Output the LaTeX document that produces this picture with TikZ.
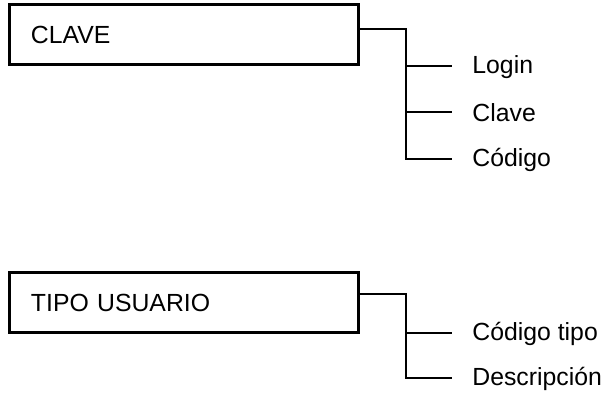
\documentclass[tikz,border=0pt]{standalone}
\usepackage{fontspec}
\setmainfont{Liberation Sans}
\begin{document}
\begin{tikzpicture}[x=0.5pt, y=-0.5pt,
    entity/.style={draw, line width=1.5pt, minimum height=30pt, text width=153pt,
        inner xsep=10.5pt, align=left, font=\fontsize{12.4}{14}\selectfont},
    field/.style={anchor=west, inner sep=0pt, font=\fontsize{12.4}{14}\selectfont},
    link/.style={line width=0.8pt}]
    \useasboundingbox (0,0) rectangle (607,394);

    % Entity boxes
    \node[entity] (clave) at (184,35) {CLAVE};
    \node[entity] (tipo) at (184,302.5) {TIPO USUARIO};

    % Attributes of CLAVE
    \node[field] (login) at (472,67) {Login};
    \node[field] (clavef) at (472,113) {Clave};
    \node[field] (codigo) at (472,160) {Código};

    % Attributes of TIPO USUARIO
    \node[field] (codtipo) at (472,334) {Código tipo};
    \node[field] (descr) at (472,379) {Descripción};

    % Tree connectors
    \coordinate (clave out) at ([yshift=3pt]clave.east);
    \coordinate (tipo out) at ([yshift=4.25pt]tipo.east);
    \draw[link] (clave out) -| ([xshift=-33pt,yshift=0.5pt]codigo.west) -- ([xshift=-10pt,yshift=0.5pt]codigo.west);
    \foreach \f in {login, clavef}
        \draw[link] ([xshift=-33pt,yshift=0.5pt]\f.west) -- ([xshift=-10pt,yshift=0.5pt]\f.west);
    \draw[link] (tipo out) -| ([xshift=-33pt,yshift=0.5pt]descr.west) -- ([xshift=-10pt,yshift=0.5pt]descr.west);
    \draw[link] ([xshift=-33pt,yshift=0.5pt]codtipo.west) -- ([xshift=-10pt,yshift=0.5pt]codtipo.west);
\end{tikzpicture}
\end{document}
